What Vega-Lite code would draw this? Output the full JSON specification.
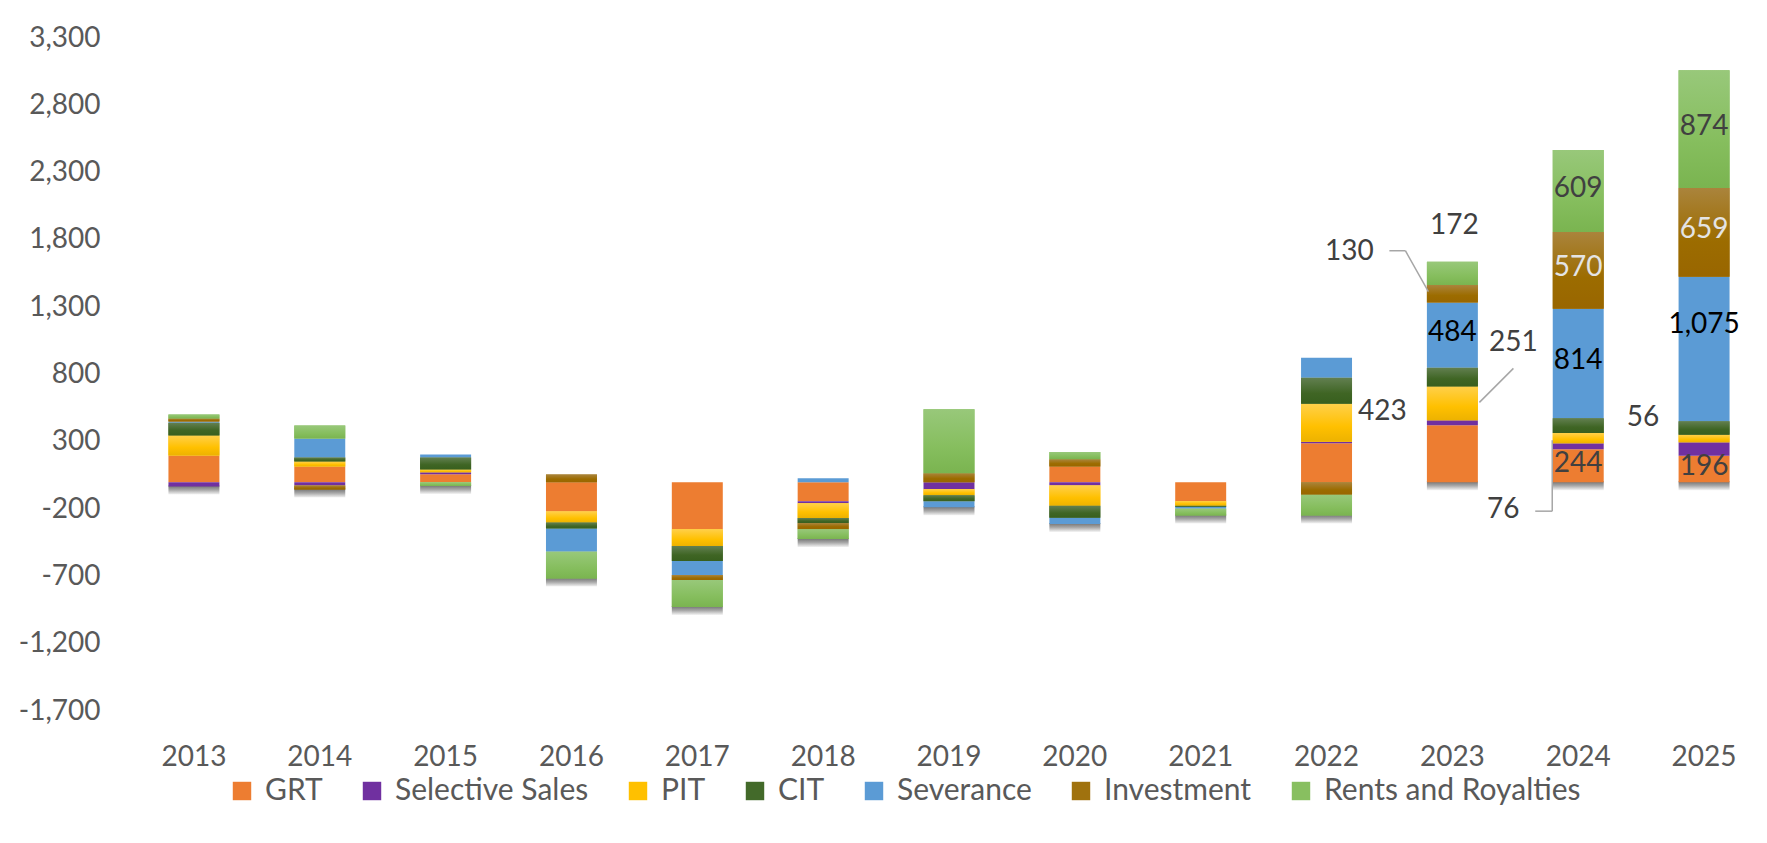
{
  "$schema": "https://vega.github.io/schema/vega-lite/v6.json",
  "width": 1636,
  "height": 673,
  "autosize": {"type": "none"},
  "padding": {"left": 131, "top": 38, "right": 0, "bottom": 132},
  "background": "white",
  "config": {
    "view": {"stroke": null},
    "font": "Lato",
    "text": {"font": "Lato", "fontSize": 28, "baseline": "middle", "align": "center"}
  },
  "resolve": {"axis": {"y": "independent"}},
  "data": {
    "values": [
      {"year": 2013, "series": "GRT", "value": 198},
      {"year": 2013, "series": "Selective Sales", "value": -32},
      {"year": 2013, "series": "PIT", "value": 149},
      {"year": 2013, "series": "CIT", "value": 94},
      {"year": 2013, "series": "Severance", "value": 10},
      {"year": 2013, "series": "Investment", "value": 22},
      {"year": 2013, "series": "Rents and Royalties", "value": 30},
      {"year": 2014, "series": "GRT", "value": 116},
      {"year": 2014, "series": "Selective Sales", "value": -25},
      {"year": 2014, "series": "PIT", "value": 37},
      {"year": 2014, "series": "CIT", "value": 30},
      {"year": 2014, "series": "Severance", "value": 141},
      {"year": 2014, "series": "Investment", "value": -30},
      {"year": 2014, "series": "Rents and Royalties", "value": 97},
      {"year": 2015, "series": "GRT", "value": 59},
      {"year": 2015, "series": "Selective Sales", "value": 15},
      {"year": 2015, "series": "PIT", "value": 20},
      {"year": 2015, "series": "CIT", "value": 89},
      {"year": 2015, "series": "Severance", "value": 22},
      {"year": 2015, "series": "Rents and Royalties", "value": -28},
      {"year": 2016, "series": "GRT", "value": -218},
      {"year": 2016, "series": "PIT", "value": -82},
      {"year": 2016, "series": "CIT", "value": -45},
      {"year": 2016, "series": "Severance", "value": -171},
      {"year": 2016, "series": "Investment", "value": 57},
      {"year": 2016, "series": "Rents and Royalties", "value": -200},
      {"year": 2017, "series": "GRT", "value": -349},
      {"year": 2017, "series": "PIT", "value": -126},
      {"year": 2017, "series": "CIT", "value": -111},
      {"year": 2017, "series": "Severance", "value": -104},
      {"year": 2017, "series": "Investment", "value": -37},
      {"year": 2017, "series": "Rents and Royalties", "value": -200},
      {"year": 2018, "series": "GRT", "value": -141},
      {"year": 2018, "series": "Selective Sales", "value": -15},
      {"year": 2018, "series": "PIT", "value": -111},
      {"year": 2018, "series": "CIT", "value": -37},
      {"year": 2018, "series": "Severance", "value": 30},
      {"year": 2018, "series": "Investment", "value": -45},
      {"year": 2018, "series": "Rents and Royalties", "value": -74},
      {"year": 2019, "series": "Selective Sales", "value": -52},
      {"year": 2019, "series": "PIT", "value": -45},
      {"year": 2019, "series": "CIT", "value": -45},
      {"year": 2019, "series": "Severance", "value": -45},
      {"year": 2019, "series": "Investment", "value": 67},
      {"year": 2019, "series": "Rents and Royalties", "value": 475},
      {"year": 2020, "series": "GRT", "value": 116},
      {"year": 2020, "series": "Selective Sales", "value": -25},
      {"year": 2020, "series": "PIT", "value": -151},
      {"year": 2020, "series": "CIT", "value": -89},
      {"year": 2020, "series": "Severance", "value": -45},
      {"year": 2020, "series": "Investment", "value": 54},
      {"year": 2020, "series": "Rents and Royalties", "value": 54},
      {"year": 2021, "series": "GRT", "value": -139},
      {"year": 2021, "series": "PIT", "value": -37},
      {"year": 2021, "series": "CIT", "value": -7},
      {"year": 2021, "series": "Severance", "value": -15},
      {"year": 2021, "series": "Rents and Royalties", "value": -50},
      {"year": 2022, "series": "GRT", "value": 290},
      {"year": 2022, "series": "Selective Sales", "value": 10},
      {"year": 2022, "series": "PIT", "value": 282},
      {"year": 2022, "series": "CIT", "value": 193},
      {"year": 2022, "series": "Severance", "value": 149},
      {"year": 2022, "series": "Investment", "value": -94},
      {"year": 2022, "series": "Rents and Royalties", "value": -153},
      {"year": 2023, "series": "GRT", "value": 423},
      {"year": 2023, "series": "Selective Sales", "value": 37},
      {"year": 2023, "series": "PIT", "value": 251},
      {"year": 2023, "series": "CIT", "value": 140},
      {"year": 2023, "series": "Severance", "value": 484},
      {"year": 2023, "series": "Investment", "value": 130},
      {"year": 2023, "series": "Rents and Royalties", "value": 172},
      {"year": 2024, "series": "GRT", "value": 244},
      {"year": 2024, "series": "Selective Sales", "value": 45},
      {"year": 2024, "series": "PIT", "value": 76},
      {"year": 2024, "series": "CIT", "value": 110},
      {"year": 2024, "series": "Severance", "value": 814},
      {"year": 2024, "series": "Investment", "value": 570},
      {"year": 2024, "series": "Rents and Royalties", "value": 609},
      {"year": 2025, "series": "GRT", "value": 196},
      {"year": 2025, "series": "Selective Sales", "value": 100},
      {"year": 2025, "series": "PIT", "value": 56},
      {"year": 2025, "series": "CIT", "value": 100},
      {"year": 2025, "series": "Severance", "value": 1075},
      {"year": 2025, "series": "Investment", "value": 659},
      {"year": 2025, "series": "Rents and Royalties", "value": 874}
    ]
  },
  "transform": [
    {"calculate": "indexof(['GRT','Selective Sales','PIT','CIT','Severance','Investment','Rents and Royalties'], datum.series)", "as": "idx"},
    {"stack": "value", "groupby": ["year"], "sort": [{"field": "idx", "order": "ascending"}], "as": ["v0", "v1"], "offset": "zero"},
    {"calculate": "(datum.v0 + datum.v1) / 2", "as": "mid"}
  ],
  "encoding": {
    "x": {
      "field": "year",
      "type": "ordinal",
      "scale": {"paddingInner": 0.595, "paddingOuter": 0.2975},
      "axis": {
        "title": null,
        "domain": false,
        "ticks": false,
        "tickSize": 0,
        "labelAngle": 0,
        "labelFontSize": 28,
        "labelFont": "Lato",
        "labelColor": "#595959",
        "labelPadding": 32,
        "grid": false
      }
    }
  },
  "layer": [
    {
      "transform": [
        {"aggregate": [
          {"op": "min", "field": "v0", "as": "a0"},
          {"op": "min", "field": "v1", "as": "a1"}
        ], "groupby": ["year"]},
        {"calculate": "min(datum.a0, datum.a1)", "as": "lo"}
      ],
      "mark": {
        "type": "bar",
        "yOffset": -1,
        "y2Offset": 8,
        "color": {"gradient": "linear", "x1": 0, "y1": 0, "x2": 0, "y2": 1, "stops": [{"offset": 0, "color": "#6F6F6F"}, {"offset": 0.5, "color": "#A8A8A8"}, {"offset": 1, "color": "#F4F4F4"}]}
      },
      "encoding": {
        "y": {
          "field": "lo",
          "type": "quantitative",
          "scale": {"domain": [-1700, 3300], "nice": false, "zero": false},
          "axis": {
            "title": null,
            "values": [-1700, -1200, -700, -200, 300, 800, 1300, 1800, 2300, 2800, 3300],
            "labelExpr": "replace(format(datum.value, ','), '\u2212', '-')",
            "domain": false,
            "ticks": false,
            "tickSize": 0,
            "grid": false,
            "labelFontSize": 28,
            "labelFont": "Lato",
            "labelColor": "#595959",
            "labelPadding": 31
          }
        },
        "y2": {"field": "lo"}
      }
    },
    {
      "mark": {"type": "bar"},
      "encoding": {
        "y": {"field": "v0", "type": "quantitative", "axis": null},
        "y2": {"field": "v1"},
        "color": {
          "field": "series",
          "type": "nominal",
          "scale": {
            "domain": ["GRT", "Selective Sales", "PIT", "CIT", "Severance", "Investment", "Rents and Royalties"],
            "range": ["#ED7D31", "#7030A0", "#FFC000", "#436A2A", "#5B9BD5", "#A0720E", "#88BF60"]
          },
          "legend": {
            "title": null,
            "orient": "none",
            "direction": "horizontal",
            "legendX": 96,
            "legendY": 738,
            "padding": 0,
            "symbolType": "square",
            "symbolSize": 340,
            "symbolStrokeWidth": 0,
            "labelFontSize": 30,
            "labelFont": "Lato",
            "labelColor": "#595959",
            "labelOffset": 8,
            "labelLimit": 0,
            "columnPadding": 34,
            "columns": 7
          }
        }
      }
    },
    {
      "transform": [{"filter": "datum.series == 'PIT'"}],
      "mark": {"type": "bar", "color": {"gradient": "linear", "x1": 0, "y1": 0, "x2": 0, "y2": 1, "stops": [{"offset": 0, "color": "#FFD04A"}, {"offset": 0.6, "color": "#FFC000"}, {"offset": 1, "color": "#EDB200"}]}},
      "encoding": {"y": {"field": "v0", "type": "quantitative", "axis": null}, "y2": {"field": "v1"}}
    },
    {
      "transform": [{"filter": "datum.series == 'CIT'"}],
      "mark": {"type": "bar", "color": {"gradient": "linear", "x1": 0, "y1": 0, "x2": 0, "y2": 1, "stops": [{"offset": 0, "color": "#627F50"}, {"offset": 0.6, "color": "#3F6524"}, {"offset": 1, "color": "#385F1E"}]}},
      "encoding": {"y": {"field": "v0", "type": "quantitative", "axis": null}, "y2": {"field": "v1"}}
    },
    {
      "transform": [{"filter": "datum.series == 'Investment'"}],
      "mark": {"type": "bar", "color": {"gradient": "linear", "x1": 0, "y1": 0, "x2": 0, "y2": 1, "stops": [{"offset": 0, "color": "#AA843C"}, {"offset": 0.6, "color": "#9C6C00"}, {"offset": 1, "color": "#996600"}]}},
      "encoding": {"y": {"field": "v0", "type": "quantitative", "axis": null}, "y2": {"field": "v1"}}
    },
    {
      "transform": [{"filter": "datum.series == 'Rents and Royalties'"}],
      "mark": {"type": "bar", "color": {"gradient": "linear", "x1": 0, "y1": 0, "x2": 0, "y2": 1, "stops": [{"offset": 0, "color": "#98C87A"}, {"offset": 0.6, "color": "#86BE5E"}, {"offset": 1, "color": "#7AB450"}]}},
      "encoding": {"y": {"field": "v0", "type": "quantitative", "axis": null}, "y2": {"field": "v1"}}
    },
    {
      "transform": [{"filter": "datum.year == 2013 && datum.series == 'GRT'"}],
      "mark": {"type": "rule", "color": "#D9D9D9", "strokeWidth": 3.5},
      "encoding": {"y": {"datum": 0, "type": "quantitative", "axis": null}}
    },
    {
      "transform": [{"filter": "(datum.year == 2023 && datum.series == 'Severance') || (datum.year == 2024 && (datum.series == 'GRT' || datum.series == 'Severance' || datum.series == 'Investment' || datum.series == 'Rents and Royalties')) || (datum.year == 2025 && (datum.series == 'GRT' || datum.series == 'Investment' || datum.series == 'Rents and Royalties'))"}],
      "mark": {"type": "text", "dy": -2},
      "encoding": {
        "y": {"field": "mid", "type": "quantitative", "axis": null},
        "text": {"field": "value", "type": "quantitative", "format": ","},
        "color": {
          "condition": [
            {"test": "datum.series == 'Severance'", "value": "#000000"},
            {"test": "datum.series == 'Investment'", "value": "#E4E4E4"}
          ],
          "value": "#404040"
        }
      }
    },
    {
      "transform": [{"filter": "datum.year == 2025 && datum.series == 'Severance'"}],
      "mark": {"type": "text", "dy": -24, "color": "#000000"},
      "encoding": {
        "y": {"field": "mid", "type": "quantitative", "axis": null},
        "text": {"field": "value", "type": "quantitative", "format": ","}
      }
    },
    {
      "transform": [{"filter": "datum.year == 2023 && datum.series == 'Rents and Royalties'"}],
      "mark": {"type": "text", "dx": 2, "dy": -47, "color": "#404040"},
      "encoding": {
        "y": {"field": "mid", "type": "quantitative", "axis": null},
        "text": {"field": "value", "type": "quantitative", "format": ","}
      }
    },
    {
      "transform": [{"filter": "datum.year == 2023 && datum.series == 'Investment'"}],
      "mark": {"type": "text", "dx": -103, "dy": -42, "color": "#404040"},
      "encoding": {
        "y": {"field": "mid", "type": "quantitative", "axis": null},
        "text": {"field": "value", "type": "quantitative", "format": ","}
      }
    },
    {
      "transform": [{"filter": "datum.year == 2023 && datum.series == 'PIT'"}],
      "mark": {"type": "text", "dx": 61, "dy": -60, "color": "#404040"},
      "encoding": {
        "y": {"field": "mid", "type": "quantitative", "axis": null},
        "text": {"field": "value", "type": "quantitative", "format": ","}
      }
    },
    {
      "transform": [{"filter": "datum.year == 2023 && datum.series == 'GRT'"}],
      "mark": {"type": "text", "dx": -70, "dy": -42, "color": "#404040"},
      "encoding": {
        "y": {"field": "mid", "type": "quantitative", "axis": null},
        "text": {"field": "value", "type": "quantitative", "format": ","}
      }
    },
    {
      "transform": [{"filter": "datum.year == 2024 && datum.series == 'PIT'"}],
      "mark": {"type": "text", "dx": -75, "dy": 72, "color": "#404040"},
      "encoding": {
        "y": {"field": "mid", "type": "quantitative", "axis": null},
        "text": {"field": "value", "type": "quantitative", "format": ","}
      }
    },
    {
      "transform": [{"filter": "datum.year == 2025 && datum.series == 'PIT'"}],
      "mark": {"type": "text", "dx": -61, "dy": -21, "color": "#404040"},
      "encoding": {
        "y": {"field": "mid", "type": "quantitative", "axis": null},
        "text": {"field": "value", "type": "quantitative", "format": ","}
      }
    },
    {
      "transform": [{"filter": "datum.year == 2023 && datum.series == 'Investment'"}],
      "mark": {"type": "rule", "color": "#A6A6A6", "strokeWidth": 1.5, "xOffset": -63, "x2Offset": -47, "yOffset": -43, "y2Offset": -43},
      "encoding": {
        "x": {"field": "year", "type": "ordinal"},
        "x2": {"field": "year"},
        "y": {"field": "mid", "type": "quantitative", "axis": null},
        "y2": {"field": "mid"}
      }
    },
    {
      "transform": [{"filter": "datum.year == 2023 && datum.series == 'Investment'"}],
      "mark": {"type": "rule", "color": "#A6A6A6", "strokeWidth": 1.5, "xOffset": -47, "x2Offset": -24, "yOffset": -43, "y2Offset": -2},
      "encoding": {
        "x": {"field": "year", "type": "ordinal"},
        "x2": {"field": "year"},
        "y": {"field": "mid", "type": "quantitative", "axis": null},
        "y2": {"field": "mid"}
      }
    },
    {
      "transform": [{"filter": "datum.year == 2023 && datum.series == 'PIT'"}],
      "mark": {"type": "rule", "color": "#A6A6A6", "strokeWidth": 1.5, "xOffset": 61, "x2Offset": 27, "yOffset": -35, "y2Offset": -1},
      "encoding": {
        "x": {"field": "year", "type": "ordinal"},
        "x2": {"field": "year"},
        "y": {"field": "mid", "type": "quantitative", "axis": null},
        "y2": {"field": "mid"}
      }
    },
    {
      "transform": [{"filter": "datum.year == 2024 && datum.series == 'PIT'"}],
      "mark": {"type": "rule", "color": "#A6A6A6", "strokeWidth": 1.5, "xOffset": -43, "x2Offset": -26, "yOffset": 73, "y2Offset": 73},
      "encoding": {
        "x": {"field": "year", "type": "ordinal"},
        "x2": {"field": "year"},
        "y": {"field": "mid", "type": "quantitative", "axis": null},
        "y2": {"field": "mid"}
      }
    },
    {
      "transform": [{"filter": "datum.year == 2024 && datum.series == 'PIT'"}],
      "mark": {"type": "rule", "color": "#A6A6A6", "strokeWidth": 1.5, "xOffset": -26, "x2Offset": -26, "yOffset": 73, "y2Offset": 2},
      "encoding": {
        "x": {"field": "year", "type": "ordinal"},
        "x2": {"field": "year"},
        "y": {"field": "mid", "type": "quantitative", "axis": null},
        "y2": {"field": "mid"}
      }
    }
  ]
}
